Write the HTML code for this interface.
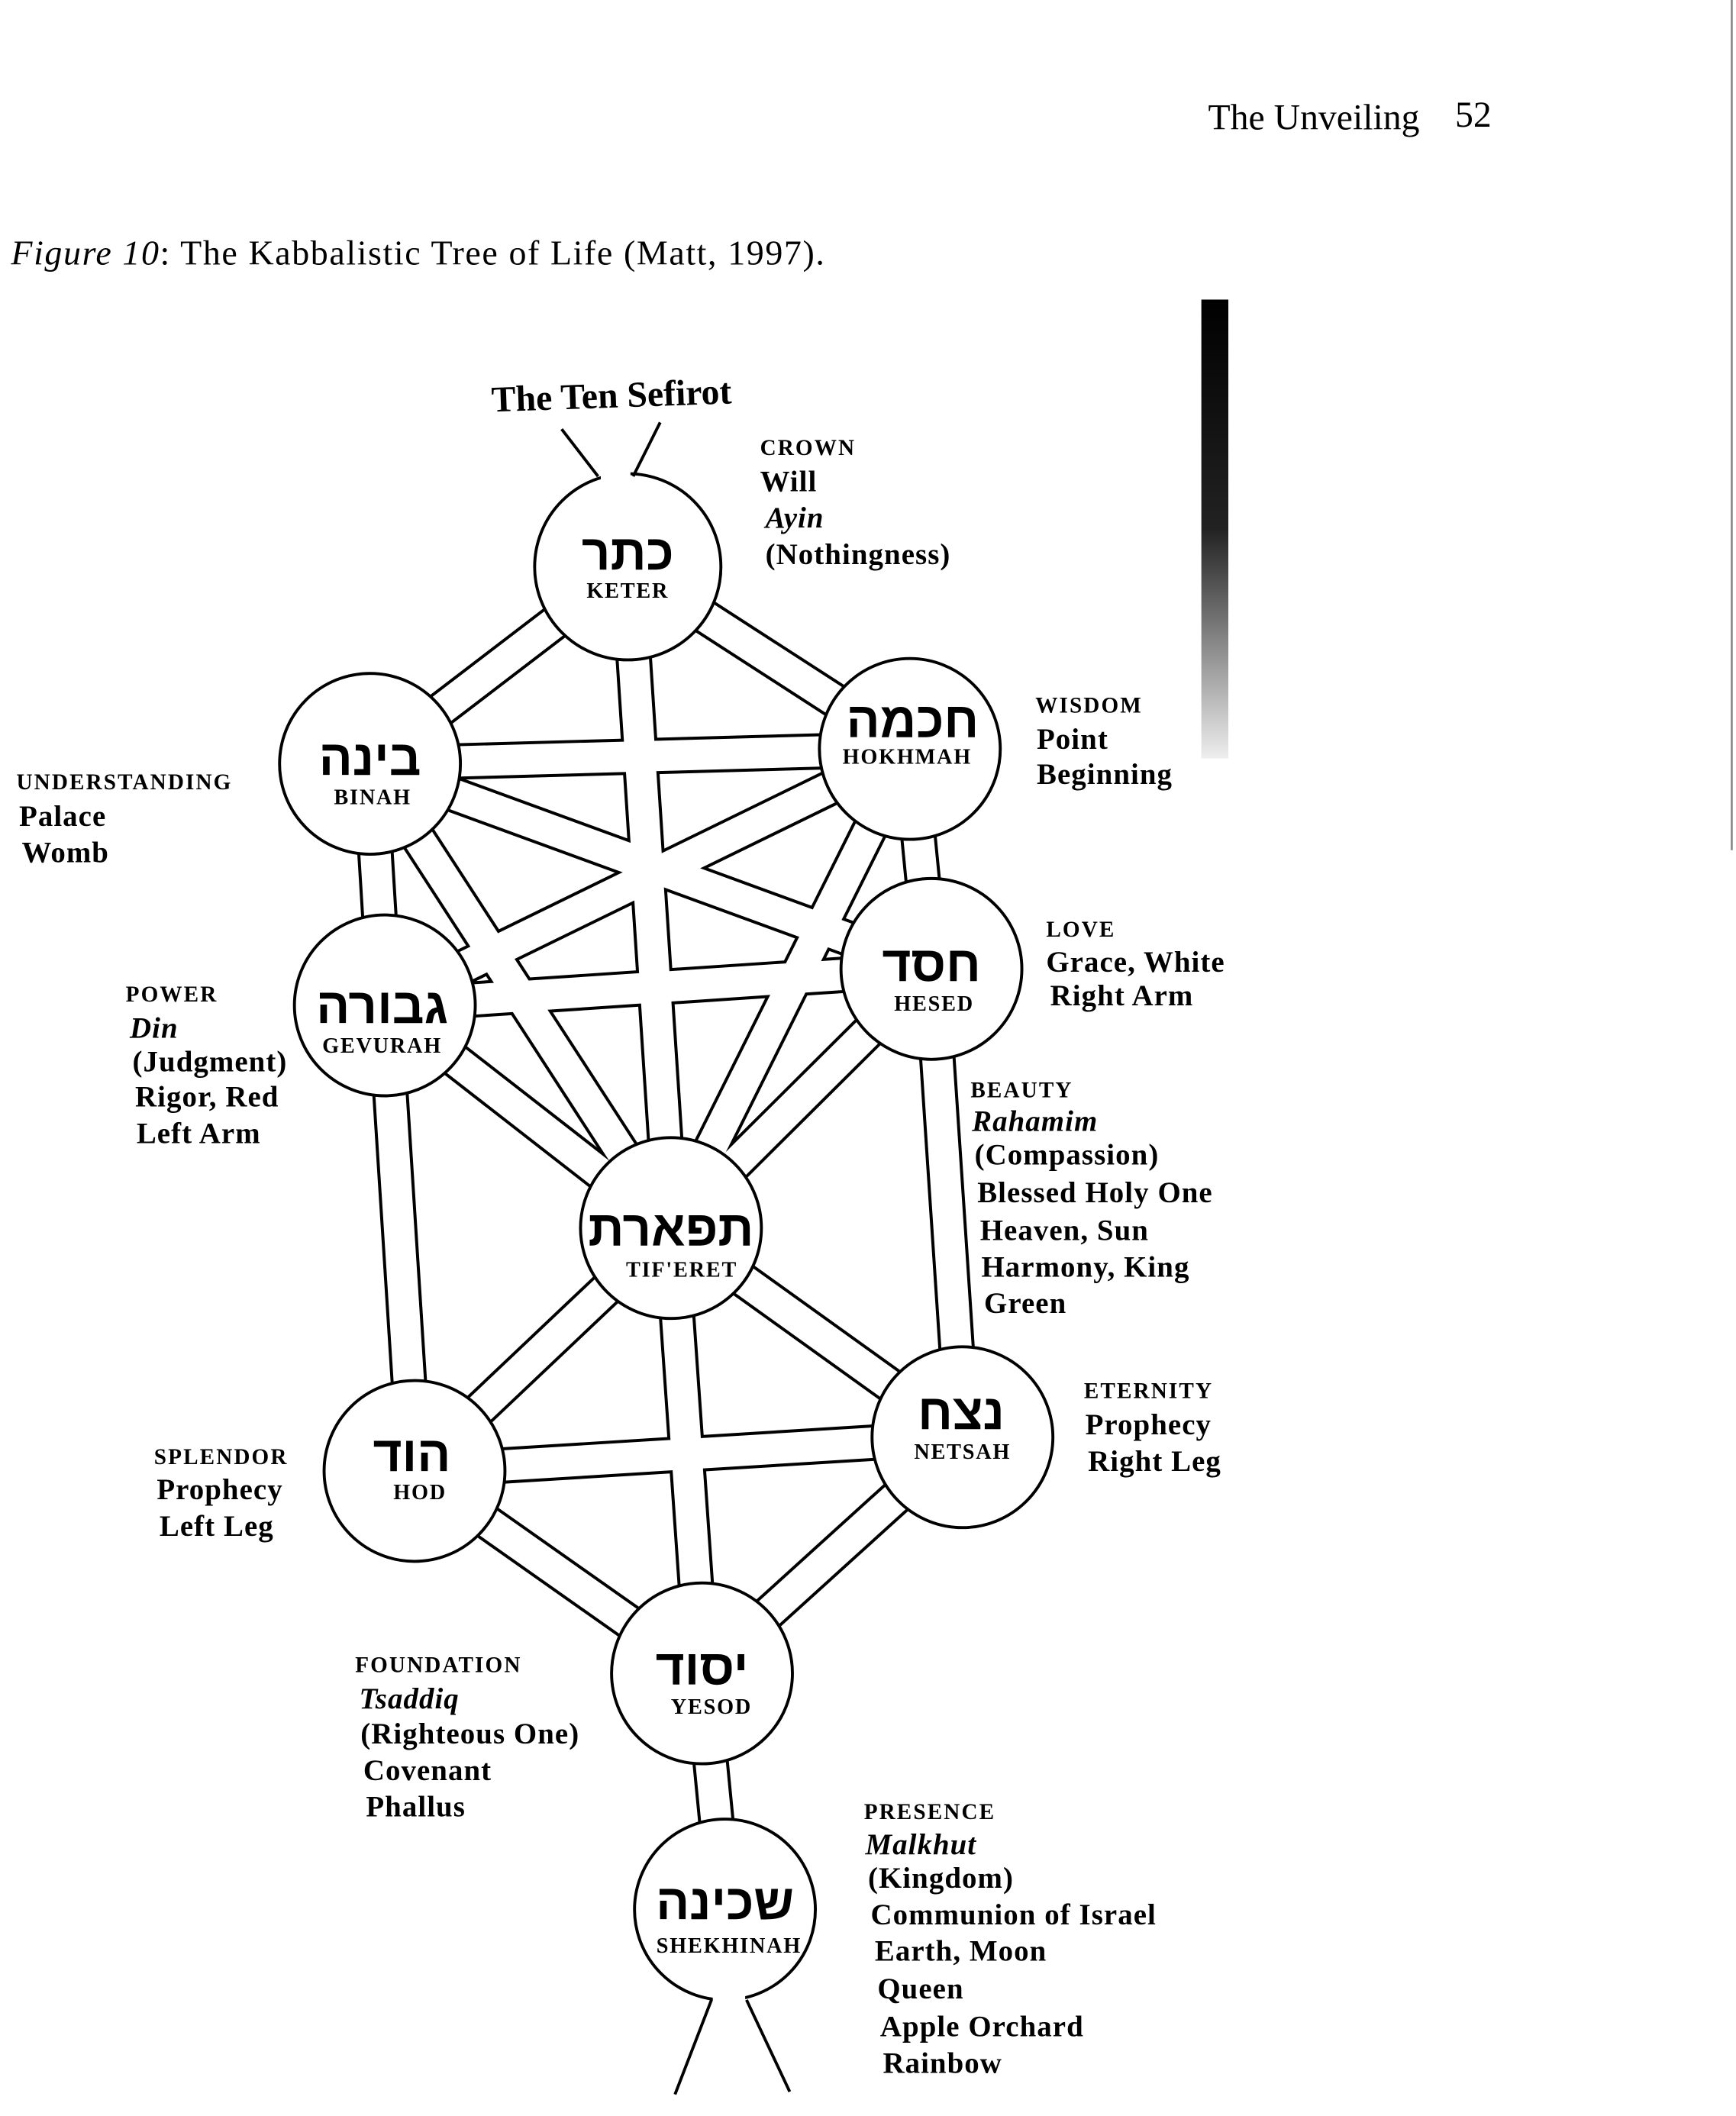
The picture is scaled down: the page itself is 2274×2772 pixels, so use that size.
<!DOCTYPE html>
<html><head><meta charset="utf-8"><style>
html,body{margin:0;padding:0;background:#fff;}
svg{display:block;}
text{font-family:"Liberation Serif","DejaVu Serif","DejaVu Sans",serif;fill:#000;}
.sc{font-size:16.5px;font-weight:bold;letter-spacing:1.2px;}
.t{font-size:22px;font-weight:bold;letter-spacing:0.6px;}
.i{font-style:italic;}
.h{font-size:37px;font-weight:bold;font-family:"Liberation Sans","DejaVu Sans",sans-serif;}
.n{font-size:16px;font-weight:bold;letter-spacing:1px;}
</style></head><body>
<svg width="2274" height="2772" viewBox="0 0 1286 1568" xmlns="http://www.w3.org/2000/svg">
<defs><linearGradient id="g" x1="0" y1="0" x2="0" y2="1"><stop offset="0" stop-color="#000"/><stop offset="0.5" stop-color="#222"/><stop offset="1" stop-color="#eee"/></linearGradient></defs>
<rect width="1286" height="1568" fill="#fff"/>
<rect x="890" y="222" width="20" height="340" fill="url(#g)"/>
<line x1="1283" y1="0" x2="1283" y2="630" stroke="#888" stroke-width="1.5"/>
<text x="895" y="96" style="font-size:27px">The Unveiling</text><text x="1078" y="94" style="font-size:27px">52</text>
<text x="8" y="196" style="font-size:26px;letter-spacing:0.9px"><tspan font-style="italic">Figure 10</tspan>: The Kabbalistic Tree of Life (Matt, 1997).</text>
<text x="453" y="302" text-anchor="middle" transform="rotate(-2 453 295)" style="font-size:27px;font-weight:bold">The Ten Sefirot</text>
<g stroke="#000" stroke-width="27">
<line x1="465" y1="420" x2="674" y2="555"/><line x1="465" y1="420" x2="274" y2="566"/>
<line x1="465" y1="420" x2="497" y2="910"/>
<line x1="674" y1="555" x2="274" y2="566"/><line x1="674" y1="555" x2="690" y2="718"/>
<line x1="674" y1="555" x2="285" y2="745"/><line x1="274" y1="566" x2="285" y2="745"/>
<line x1="274" y1="566" x2="690" y2="718"/><line x1="674" y1="555" x2="497" y2="910"/>
<line x1="274" y1="566" x2="497" y2="910"/><line x1="690" y1="718" x2="285" y2="745"/>
<line x1="690" y1="718" x2="497" y2="910"/><line x1="285" y1="745" x2="497" y2="910"/>
<line x1="690" y1="718" x2="713" y2="1065"/><line x1="285" y1="745" x2="307" y2="1090"/>
<line x1="497" y1="910" x2="713" y2="1065"/><line x1="497" y1="910" x2="307" y2="1090"/>
<line x1="497" y1="910" x2="520" y2="1240"/><line x1="713" y1="1065" x2="307" y2="1090"/>
<line x1="713" y1="1065" x2="520" y2="1240"/><line x1="307" y1="1090" x2="520" y2="1240"/>
<line x1="520" y1="1240" x2="537" y2="1415"/>
</g>
<g stroke="#fff" stroke-width="22.5">
<line x1="465" y1="420" x2="674" y2="555"/><line x1="465" y1="420" x2="274" y2="566"/>
<line x1="465" y1="420" x2="497" y2="910"/>
<line x1="674" y1="555" x2="274" y2="566"/><line x1="674" y1="555" x2="690" y2="718"/>
<line x1="674" y1="555" x2="285" y2="745"/><line x1="274" y1="566" x2="285" y2="745"/>
<line x1="274" y1="566" x2="690" y2="718"/><line x1="674" y1="555" x2="497" y2="910"/>
<line x1="274" y1="566" x2="497" y2="910"/><line x1="690" y1="718" x2="285" y2="745"/>
<line x1="690" y1="718" x2="497" y2="910"/><line x1="285" y1="745" x2="497" y2="910"/>
<line x1="690" y1="718" x2="713" y2="1065"/><line x1="285" y1="745" x2="307" y2="1090"/>
<line x1="497" y1="910" x2="713" y2="1065"/><line x1="497" y1="910" x2="307" y2="1090"/>
<line x1="497" y1="910" x2="520" y2="1240"/><line x1="713" y1="1065" x2="307" y2="1090"/>
<line x1="713" y1="1065" x2="520" y2="1240"/><line x1="307" y1="1090" x2="520" y2="1240"/>
<line x1="520" y1="1240" x2="537" y2="1415"/>
</g>
<g fill="#fff" stroke="#000" stroke-width="2.2">
<circle cx="465" cy="420" r="69"/><circle cx="674" cy="555" r="67"/><circle cx="274" cy="566" r="67"/>
<circle cx="690" cy="718" r="67"/><circle cx="285" cy="745" r="67"/><circle cx="497" cy="910" r="67"/>
<circle cx="713" cy="1065" r="67"/><circle cx="307" cy="1090" r="67"/><circle cx="520" cy="1240" r="67"/>
<circle cx="537" cy="1415" r="67"/>
</g>
<g fill="#fff"><rect x="445" y="345" width="22" height="12"/><rect x="528" y="1475" width="24" height="12"/></g>
<g stroke="#000" stroke-width="2.2" fill="none">
<polyline points="416,318 443,353"/><polyline points="489,313 469,353"/>
<polyline points="527,1482 500,1552"/><polyline points="553,1482 585,1550"/>
</g>
<g text-anchor="middle">
<text x="465" y="422" class="h">כתר</text><text x="465" y="443" class="n">KETER</text>
<text x="676" y="546" class="h">חכמה</text><text x="672" y="566" class="n">HOKHMAH</text>
<text x="274" y="574" class="h">בינה</text><text x="276" y="596" class="n">BINAH</text>
<text x="690" y="727" class="h">חסד</text><text x="692" y="749" class="n">HESED</text>
<text x="283" y="758" class="h">גבורה</text><text x="283" y="780" class="n">GEVURAH</text>
<text x="497" y="923" class="h">תפארת</text><text x="505" y="946" class="n">TIF'ERET</text>
<text x="712" y="1059" class="h">נצח</text><text x="713" y="1081" class="n">NETSAH</text>
<text x="305" y="1090" class="h">הוד</text><text x="311" y="1111" class="n">HOD</text>
<text x="520" y="1248" class="h">יסוד</text><text x="527" y="1270" class="n">YESOD</text>
<text x="537" y="1422" class="h">שכינה</text><text x="540" y="1447" class="n">SHEKHINAH</text>
</g>
<g>
<text x="563" y="337" class="sc">CROWN</text><text x="563" y="364" class="t">Will</text><text x="567" y="391" class="t i">Ayin</text><text x="567" y="418" class="t">(Nothingness)</text>
<text x="767" y="528" class="sc">WISDOM</text><text x="768" y="555" class="t">Point</text><text x="768" y="581" class="t">Beginning</text>
<text x="12" y="585" class="sc">UNDERSTANDING</text><text x="14" y="612" class="t">Palace</text><text x="16" y="639" class="t">Womb</text>
<text x="775" y="694" class="sc">LOVE</text><text x="775" y="720" class="t">Grace, White</text><text x="778" y="745" class="t">Right Arm</text>
<text x="93" y="742" class="sc">POWER</text><text x="96" y="769" class="t i">Din</text><text x="98" y="794" class="t">(Judgment)</text><text x="100" y="820" class="t">Rigor, Red</text><text x="101" y="847" class="t">Left Arm</text>
<text x="719" y="813" class="sc">BEAUTY</text><text x="720" y="838" class="t i">Rahamim</text><text x="722" y="863" class="t">(Compassion)</text><text x="724" y="891" class="t">Blessed Holy One</text><text x="726" y="919" class="t">Heaven, Sun</text><text x="727" y="946" class="t">Harmony, King</text><text x="729" y="973" class="t">Green</text>
<text x="803" y="1036" class="sc">ETERNITY</text><text x="804" y="1063" class="t">Prophecy</text><text x="806" y="1090" class="t">Right Leg</text>
<text x="114" y="1085" class="sc">SPLENDOR</text><text x="116" y="1111" class="t">Prophecy</text><text x="118" y="1138" class="t">Left Leg</text>
<text x="263" y="1239" class="sc">FOUNDATION</text><text x="266" y="1266" class="t i">Tsaddiq</text><text x="267" y="1292" class="t">(Righteous One)</text><text x="269" y="1319" class="t">Covenant</text><text x="271" y="1346" class="t">Phallus</text>
<text x="640" y="1348" class="sc">PRESENCE</text><text x="641" y="1374" class="t i">Malkhut</text><text x="643" y="1399" class="t">(Kingdom)</text><text x="645" y="1426" class="t">Communion of Israel</text><text x="648" y="1453" class="t">Earth, Moon</text><text x="650" y="1481" class="t">Queen</text><text x="652" y="1509" class="t">Apple Orchard</text><text x="654" y="1536" class="t">Rainbow</text>
</g>
</svg>
</body></html>
